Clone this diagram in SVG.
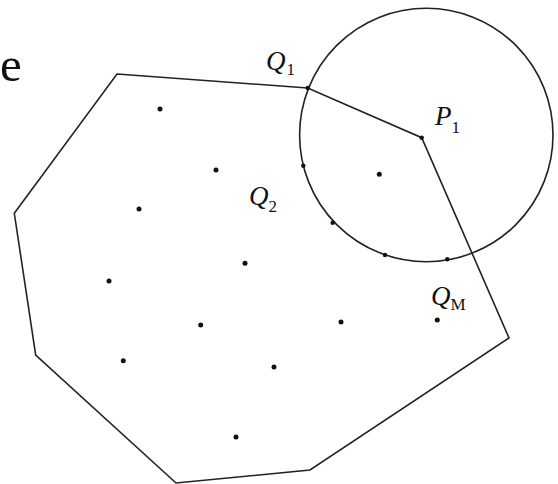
<svg xmlns="http://www.w3.org/2000/svg" width="558" height="484" viewBox="0 0 558 484">
<style>
.ln{fill:none;stroke:#222;stroke-width:1.6;stroke-linejoin:miter}
.pt{fill:#111}
.lbl{font-family:"Liberation Serif","DejaVu Serif",serif;font-style:italic;font-size:27px;fill:#111}
.sub{font-style:normal;font-size:17px}
.big{font-family:"Liberation Serif","DejaVu Serif",serif;font-size:49px;fill:#111}
</style>
<rect width="558" height="484" fill="#fff"/>
<text class="big" x="0" y="81">e</text>
<g id="connectors">
<polygon id="region" class="ln" points="117,74 307.7,88 421.7,137.7 509,338 310,470 176,483 35.7,355 14.3,213.3"/>
<circle id="range" class="ln" cx="426.3" cy="135" r="126.7"/>
</g>
<g id="points">
<circle class="pt" cx="160" cy="109" r="2.5"/>
<circle class="pt" cx="216" cy="170" r="2.5"/>
<circle class="pt" cx="139" cy="209" r="2.5"/>
<circle class="pt" cx="245" cy="263.3" r="2.5"/>
<circle class="pt" cx="109" cy="281" r="2.5"/>
<circle class="pt" cx="200.7" cy="325" r="2.5"/>
<circle class="pt" cx="341" cy="322" r="2.5"/>
<circle class="pt" cx="437.3" cy="320" r="2.5"/>
<circle class="pt" cx="123.3" cy="360.7" r="2.5"/>
<circle class="pt" cx="274" cy="367" r="2.5"/>
<circle class="pt" cx="236" cy="437" r="2.5"/>
<circle class="pt" cx="379.3" cy="174.3" r="2.5"/>
<circle class="pt" cx="303.3" cy="165.7" r="2.2"/>
<circle class="pt" cx="332.7" cy="222.7" r="2.2"/>
<circle class="pt" cx="385" cy="255" r="2.2"/>
<circle class="pt" cx="447.3" cy="259.3" r="2.2"/>
<circle class="pt" cx="307.7" cy="88" r="2.2"/>
<circle class="pt" cx="421.7" cy="137.7" r="2.2"/>
</g>
<g id="label-Q1"><text class="lbl" x="266" y="70">Q<tspan class="sub" dx="1" dy="5">1</tspan></text></g>
<g id="label-P1"><text class="lbl" x="435" y="125">P<tspan class="sub" dx="0" dy="8">1</tspan></text></g>
<g id="label-Q2"><text class="lbl" x="249" y="205">Q<tspan class="sub" dx="0" dy="7">2</tspan></text></g>
<g id="label-QM"><text class="lbl" x="431" y="305">Q<tspan class="sub" dx="0" dy="5">M</tspan></text></g>
</svg>
